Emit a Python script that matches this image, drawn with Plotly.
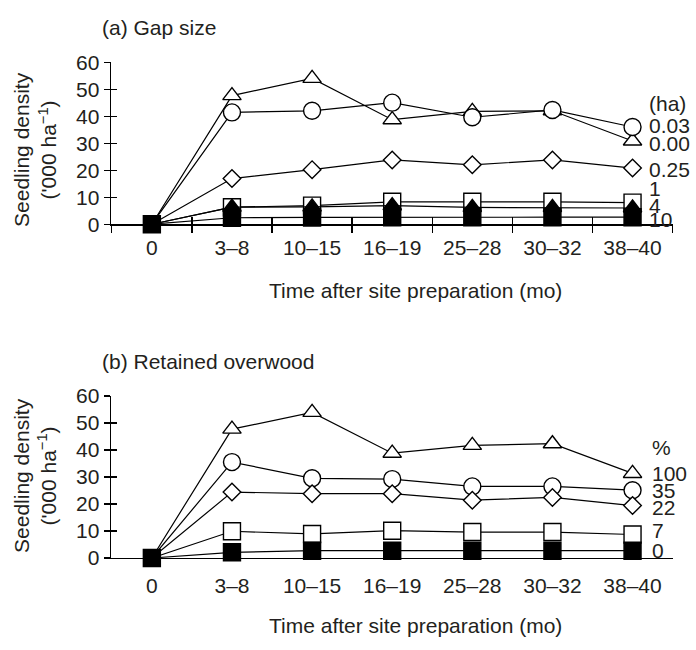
import plotly.graph_objects as go

# ---------------- data ----------------
categories = ["0", "3–8", "10–15", "16–19", "25–28", "30–32", "38–40"]
y_ticks = [0, 10, 20, 30, 40, 50, 60]

# (a) Gap size (ha) – seedling density ('000 ha-1)
gap_0_00 = [0, 47.6, 54.0, 38.7, 41.8, 42.0, 30.8]
gap_0_03 = [0, 41.4, 42.0, 45.0, 39.6, 42.3, 36.0]
gap_0_25 = [0, 16.9, 20.2, 23.8, 22.0, 23.8, 20.8]
gap_1 = [0, 6.3, 6.9, 8.3, 8.3, 8.3, 8.0]
gap_4 = [0, 6.3, 6.4, 6.9, 6.2, 6.2, 6.0]
gap_10 = [0, 2.4, 2.5, 2.6, 2.6, 2.6, 2.6]
gap_header = "(ha)"
gap_labels = ["0.03", "0.00", "0.25", "1", "4", "10"]

# (b) Retained overwood (%)
ow_100 = [0, 47.7, 53.9, 38.8, 41.7, 42.3, 31.3]
ow_35 = [0, 35.5, 29.5, 29.2, 26.5, 26.5, 25.1]
ow_22 = [0, 24.4, 23.8, 23.8, 21.4, 22.4, 19.4]
ow_7 = [0, 9.9, 8.9, 10.1, 9.6, 9.6, 8.7]
ow_0 = [0, 2.1, 2.7, 2.7, 2.7, 2.7, 2.7]
ow_header = "%"
ow_labels = ["100", "35", "22", "7", "0"]

title_a = "(a) Gap size"
title_b = "(b) Retained overwood"
x_title = "Time after site preparation (mo)"
y_title = "Seedling density<br>('000 ha<sup>−1</sup>)"

# ---------------- layout helpers ----------------
W, H = 696, 650
FONT = "Arial, Liberation Sans, Helvetica, sans-serif"
TXT = "#231f20"
FS = 21


def fx(px):
    return px / W


def fy(py):
    return 1 - py / H


X_DOM = [fx(111), fx(673)]
XR = [-0.51, 6.505]

fig = go.Figure()

OPEN = "white"
BLACK = "black"


def add_series(vals, symbol, size, fill, xa, ya, hide_first=True):
    n = len(vals)
    fig.add_trace(go.Scatter(
        x=categories, y=vals, mode="lines+markers",
        xaxis=xa, yaxis=ya,
        line=dict(color="black", width=1.2),
        marker=dict(symbol=symbol, size=size, color=fill,
                    line=dict(color="black", width=1.4),
                    opacity=([0] + [1] * (n - 1)) if hide_first else 1),
        cliponaxis=False, showlegend=False, hoverinfo="skip"))


# panel a
add_series(gap_0_00, "triangle-up", 16, OPEN, "x", "y")
add_series(gap_0_03, "circle", 17, OPEN, "x", "y")
add_series(gap_0_25, "diamond", 13.5, OPEN, "x", "y")
add_series(gap_1, "square", 17, OPEN, "x", "y")
add_series(gap_4, "triangle-up", 16, BLACK, "x", "y")
add_series(gap_10, "square", 17, BLACK, "x", "y", hide_first=False)

# panel b
add_series(ow_100, "triangle-up", 16, OPEN, "x2", "y2")
add_series(ow_35, "circle", 17, OPEN, "x2", "y2")
add_series(ow_22, "diamond", 13.5, OPEN, "x2", "y2")
add_series(ow_7, "square", 17, OPEN, "x2", "y2")
add_series(ow_0, "square", 17, BLACK, "x2", "y2", hide_first=False)

# helper (empty) traces for overlay axes giving crossing ticks
for xa, ya in [("x3", "y"), ("x", "y3"), ("x2", "y4")]:
    fig.add_trace(go.Scatter(x=categories, y=[None] * len(categories),
                             xaxis=xa, yaxis=ya, mode="markers",
                             showlegend=False, hoverinfo="skip"))

axis_common = dict(showgrid=False, zeroline=False, color="black",
                   tickfont=dict(family=FONT, size=FS, color=TXT))

cat_axis = dict(type="category", categoryorder="array", categoryarray=categories,
                range=XR, **axis_common)

fig.update_layout(
    width=W, height=H, autosize=False,
    margin=dict(l=0, r=0, t=0, b=0, pad=0),
    paper_bgcolor="white", plot_bgcolor="white",
    font=dict(family=FONT, size=FS, color=TXT),
    xaxis=dict(domain=X_DOM, anchor="y", showline=True, linecolor="black", linewidth=1.4,
               ticks="outside", tickson="boundaries", ticklen=7, tickwidth=1.3, tickcolor="black",
               ticklabelstandoff=4, **cat_axis),
    xaxis3=dict(overlaying="x", anchor="y", showline=False, showticklabels=False,
                ticks="inside", tickson="boundaries", ticklen=7, tickwidth=1.3, tickcolor="black",
                **cat_axis),
    yaxis=dict(domain=[fy(220), fy(52)], anchor="x", range=[0, 60], tickmode="array",
               tickvals=y_ticks, showline=True, linecolor="black", linewidth=1.4,
               ticks="outside", ticklen=6, tickwidth=1.3, tickcolor="black", **axis_common),
    yaxis3=dict(overlaying="y", anchor="x", range=[0, 60], tickmode="array", tickvals=y_ticks,
                showline=False, showticklabels=False, ticks="inside", ticklen=6, tickwidth=1.3,
                tickcolor="black", showgrid=False, zeroline=False),
    xaxis2=dict(domain=X_DOM, anchor="y2", showline=True, linecolor="black", linewidth=1.4,
                ticks="", ticklabelstandoff=8, **cat_axis),
    yaxis2=dict(domain=[fy(566), fy(398)], anchor="x2", range=[0, 60], tickmode="array",
                tickvals=y_ticks, showline=True, linecolor="black", linewidth=1.4,
                ticks="outside", ticklen=6, tickwidth=1.3, tickcolor="black", **axis_common),
    yaxis4=dict(overlaying="y2", anchor="x2", range=[0, 60], tickmode="array", tickvals=y_ticks,
                showline=False, showticklabels=False, ticks="inside", ticklen=6, tickwidth=1.3,
                tickcolor="black", showgrid=False, zeroline=False),
)

ann = []


def text(s, px, py, xanchor="left", angle=0):
    ann.append(dict(text=s, x=fx(px), y=fy(py), xref="paper", yref="paper",
                    xanchor=xanchor, yanchor="middle", showarrow=False, textangle=angle,
                    font=dict(family=FONT, size=FS, color=TXT)))


text(title_a, 100, 16)
text(title_b, 100, 362)
text(x_title, 415, 289, "center")
text(x_title, 415, 636, "center")
text(y_title, 35, 143, "center", -90)
text(y_title, 35, 481, "center", -90)

text(gap_header, 647, 95)
for lab, py in zip(gap_labels, [118, 136, 163, 183, 201, 215]):
    text(lab, 647, py)
text(ow_header, 650, 451)
for lab, py in zip(ow_labels, [478, 496, 514, 538, 558]):
    text(lab, 650, py)

fig.update_layout(annotations=ann)

fig.write_html("out.html", config={"displayModeBar": False, "staticPlot": True},
               post_script="document.body.style.margin='0';document.body.style.overflow='hidden';")
